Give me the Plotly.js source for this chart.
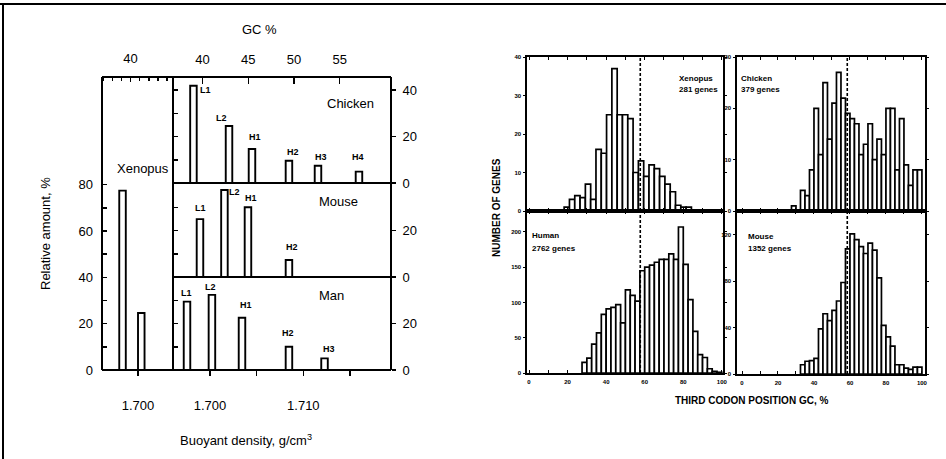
<!DOCTYPE html>
<html><head><meta charset="utf-8">
<script src="https://cdn.plot.ly/plotly-3.0.1.min.js"></script>
<style>html,body{margin:0;padding:0;background:#fff}#chart{width:946px;height:459px}</style>
</head><body><div id="chart"></div>
<script>
// ---------- DATA (left figure: CsCl bands) ----------
const xenopusDensity = [1.69834, 1.70035];
const xenopusAmount  = [77.4, 24.6];

const chickenBands   = ['L1','L2','H1','H2','H3','H4'];
const chickenDensity = [1.69823, 1.70204, 1.70450, 1.70846, 1.71157, 1.71596];
const chickenAmount  = [41.8, 24.5, 14.6, 9.6, 7.4, 4.9];

const mouseBands     = ['L1','L2','H1','H2'];
const mouseDensity   = [1.69893, 1.70155, 1.70407, 1.70846];
const mouseAmount    = [24.9, 37.4, 30.0, 7.3];

const manBands       = ['L1','L2','H1','H2','H3'];
const manDensity     = [1.69754, 1.70021, 1.70343, 1.70846, 1.71227];
const manAmount      = [29.4, 32.3, 22.5, 10.0, 5.0];

// ---------- DATA (right figure: GC3 histograms) ----------
const xenopusGC  = [19.6,22.35,25.1,27.85,30.6,33.35,36.1,38.85,41.6,44.35,47.1,49.85,52.6,55.35,58.1,60.85,63.6,66.35,69.1,71.85,74.6,77.35,80.1,82.85];
const xenopusGenes = [1,3,4,3.5,7,3,16,15,25,37,25,25,24,10,13,9,12,11,9,7,5,1.5,1,1];

const humanGC = [28.75,31.25,33.75,36.25,38.75,41.25,43.75,46.25,48.75,51.25,53.75,56.25,58.75,61.25,63.75,66.25,68.75,71.25,73.75,76.25,78.75,81.25,83.75,86.25,88.75,91.25,93.75,96.25,98.75];
const humanGenes = [15,21,41,57,83,91,93,97,71,118,110,102,145,150,153,157,161,161,169,161,207,154,104,59,26,22,6,2.5,1];

const chickenGC = [28.75,33.75,36.25,38.75,41.25,43.75,46.25,48.75,51.25,53.75,56.25,58.75,61.25,63.75,66.25,68.75,71.25,73.75,76.25,78.75,81.25,83.75,86.25,88.75,91.25,93.75,96.25,98.75];
const chickenGenes = [1,4,3,8,20,11,25,14,21,27,22,19,18,17,11,13,17,10,14,11,20,20,8,18,9,5,8,8];

const mouseGC = [33.75,36.25,38.75,41.25,43.75,46.25,48.75,51.25,53.75,56.25,58.75,61.25,63.75,66.25,68.75,71.25,73.75,76.25,78.75,81.25,83.75,86.25,88.75,91.25,93.75,96.25,98.75];
const mouseGenes = [8,11,11.5,13.5,39,52,46,55,63,79,108,121,116,110,104,113,107,83,42,32,24,8,8,5,4,6,6];

const meanGC_XenopusHuman = 57.7;
const meanGC_ChickenMouse = 58.5;
const geneCounts = {Xenopus:'281 genes', Chicken:'379 genes', Human:'2762 genes', Mouse:'1352 genes'};

// ---------- helpers ----------
const W = 946, H = 459;
const dx = (a,b) => [a/W, b/W];
const dy = (top,bot) => [1-bot/H, 1-top/H];
const gcOf = d => (d - 1.660) / 0.00098;     // buoyant density -> GC %
const FONT = 'Liberation Sans, Arial, Helvetica, sans-serif';

const xenRange = [1.69614, 1.70375];
const subRange = [1.69604, 1.71939];

function bandBar(x, y, xa, ya){
  return {type:'bar', x:x, y:y, xaxis:xa, yaxis:ya, width:0.0007,
    marker:{color:'#fff', line:{color:'#000', width:1.9}}, hoverinfo:'skip', showlegend:false};
}
function histBar(x, y, w, xa, ya){
  return {type:'bar', x:x, y:y, xaxis:xa, yaxis:ya, width:w,
    marker:{color:'#fff', line:{color:'#000', width:1.7}}, hoverinfo:'skip', showlegend:false};
}
// empty carriers so that the secondary (overlaying) axes get drawn
const carrier = (xa, ya) => ({type:'scatter', mode:'markers', x:[], y:[], xaxis:xa, yaxis:ya,
  hoverinfo:'skip', showlegend:false});

const traces = [
  bandBar(xenopusDensity, xenopusAmount, 'x', 'y'),
  bandBar(chickenDensity, chickenAmount, 'x3', 'y3'),
  bandBar(mouseDensity, mouseAmount, 'x3', 'y5'),
  bandBar(manDensity, manAmount, 'x3', 'y7'),
  histBar(xenopusGC, xenopusGenes, 2.75, 'x5', 'y9'),
  histBar(humanGC, humanGenes, 2.5, 'x6', 'y10'),
  histBar(chickenGC, chickenGenes, 2.5, 'x7', 'y11'),
  histBar(mouseGC, mouseGenes, 2.5, 'x8', 'y12'),
  carrier('x2','y'), carrier('x4','y3'), carrier('x3','y4'), carrier('x3','y6'), carrier('x3','y8'),
];

const base = {showgrid:false, zeroline:false, showline:false, fixedrange:true,
  tickcolor:'#000', tickwidth:1.5, tickfont:{family:FONT, size:13, color:'#000'}};
const tickF = {family:FONT, size:6, color:'#000', weight:'bold'};
const hx = (o) => Object.assign({}, base, {showline:true, linewidth:1.6, linecolor:'#000', mirror:'ticks',
  ticks:'inside', ticklen:3, tickwidth:1, tickfont:tickF}, o);
const hy = (o) => Object.assign({}, base, {showline:true, linewidth:1.6, linecolor:'#000', mirror:'ticks',
  ticks:'outside', ticklen:2, tickwidth:1, tickfont:tickF, ticklabelstandoff:1}, o);

const layout = {
  width:W, height:H, margin:{l:0,r:0,t:0,b:0}, autosize:false,
  paper_bgcolor:'#fff', plot_bgcolor:'rgba(0,0,0,0)', barmode:'overlay', bargap:0,
  font:{family:FONT, color:'#000'}, showlegend:false, hovermode:false,

  // left: Xenopus
  xaxis: Object.assign({}, base, {domain:dx(102,173), range:xenRange, anchor:'y',
    tickvals:[1.700], ticktext:['1.700'], ticks:'outside', ticklen:5, ticklabelstandoff:18}),
  xaxis2: Object.assign({}, base, {overlaying:'x', side:'top', anchor:'y', range:xenRange.map(gcOf),
    tickvals:[40], ticks:'inside', ticklen:5, ticklabelstandoff:10,
    minor:{tickvals:[37,38,39,41,42,43,44], ticks:'inside', ticklen:4, tickwidth:1.5, tickcolor:'#000'}}),
  yaxis: Object.assign({}, base, {domain:dy(77,370), range:[0,126.45], anchor:'x',
    tickvals:[0,10,20,30,40,50,60,70,80], ticktext:['0','','20','','40','','60','','80'],
    ticks:'inside', ticklen:5, ticklabelstandoff:8}),

  // left: Chicken / Mouse / Man
  xaxis3: Object.assign({}, base, {domain:dx(173,391), range:subRange, anchor:'y7',
    tickvals:[1.700,1.705,1.710,1.715], ticktext:['1.700','','1.710',''],
    ticks:'outside', ticklen:5, ticklabelstandoff:18}),
  xaxis4: Object.assign({}, base, {overlaying:'x3', side:'top', anchor:'free', position:1-77/H,
    range:subRange.map(gcOf), tickvals:[40,45,50,55], ticks:'inside', ticklen:6, ticklabelstandoff:10}),
  yaxis3: Object.assign({}, base, {domain:dy(77,183), range:[0,45.59], anchor:'x3',
    tickvals:[10,20,30,40], showticklabels:false, ticks:'inside', ticklen:5}),
  yaxis4: Object.assign({}, base, {overlaying:'y3', side:'right', anchor:'x3', range:[0,45.59],
    tickvals:[0,20,40], ticks:'outside', ticklen:4, ticklabelstandoff:4}),
  yaxis5: Object.assign({}, base, {domain:dy(183,277), range:[0,40.43], anchor:'x3',
    tickvals:[10,20,30], showticklabels:false, ticks:'inside', ticklen:5}),
  yaxis6: Object.assign({}, base, {overlaying:'y5', side:'right', anchor:'x3', range:[0,40.43],
    tickvals:[0,20], ticks:'outside', ticklen:4, ticklabelstandoff:4}),
  yaxis7: Object.assign({}, base, {domain:dy(277,370), range:[0,40], anchor:'x3',
    tickvals:[10,20,30], showticklabels:false, ticks:'inside', ticklen:5}),
  yaxis8: Object.assign({}, base, {overlaying:'y7', side:'right', anchor:'x3', range:[0,40],
    tickvals:[0,20], ticks:'outside', ticklen:4, ticklabelstandoff:4}),

  // right: histograms
  xaxis5: hx({domain:dx(527,723), range:[-1.04,100.6], anchor:'y9', dtick:10, showticklabels:false}),
  yaxis9: hy({domain:dy(57,211), range:[0,40], anchor:'x5', tickvals:[0,10,20,30,40]}),
  xaxis6: hx({domain:dx(527,723), range:[-1.04,100.6], anchor:'y10', dtick:10,
    tickvals:[0,10,20,30,40,50,60,70,80,90,100], ticktext:['0','','20','','40','','60','','80','','100'], ticklabelstandoff:2}),
  yaxis10: hy({domain:dy(211,373), range:[0,229.7], anchor:'x6', tickvals:[0,50,100,150,200]}),
  xaxis7: hx({domain:dx(737,925), range:[-2.78,101.7], anchor:'y11', dtick:10, showticklabels:false}),
  yaxis11: hy({domain:dy(57,211), range:[0,30], anchor:'x7', tickvals:[0,10,20,30]}),
  xaxis8: hx({domain:dx(737,925), range:[-2.78,101.7], anchor:'y12',
    tickvals:[0,10,20,30,40,50,60,70,80,90,100], ticktext:['0','','20','','40','','60','','80','','100'], ticklabelstandoff:2}),
  yaxis12: hy({domain:dy(211,374), range:[0,140.7], anchor:'x8', tickvals:[0,40,80,120]}),
};

// frame lines (paper px)
const L = (x0,y0,x1,y1,w) => ({type:'line', xref:'paper', yref:'paper', x0:x0/W, x1:x1/W, y0:1-y0/H, y1:1-y1/H,
  line:{color:'#000', width:w||2}});
const dash = (xa, ya, v) => ({type:'line', xref:xa, yref:ya+' domain', x0:v, x1:v, y0:0, y1:1,
  line:{color:'#000', width:1.6, dash:'3px,2px'}});
layout.shapes = [
  L(0,4,946,4,2), L(3,4,3,459,2),
  L(102,77,391,77), L(102,370,391,370), L(102,77,102,370), L(391,77,391,370), L(173,77,173,370),
  L(173,183,391,183), L(173,277,391,277),
  dash('x5','y9',meanGC_XenopusHuman), dash('x6','y10',meanGC_XenopusHuman),
  dash('x7','y11',meanGC_ChickenMouse), dash('x8','y12',meanGC_ChickenMouse),
];

// annotations
const ann = [];
const P = (text, x, y, o) => ann.push(Object.assign({text:text, xref:'paper', yref:'paper', x:x/W, y:1-y/H,
  showarrow:false, xanchor:'center', yanchor:'middle', font:{family:FONT, size:13, color:'#000'}}, o||{}));
P('GC %', 259, 30, {font:{family:FONT, size:13, color:'#000'}});
P('Relative amount, %', 46, 234, {textangle:-90});
P('Buoyant density, g/cm<sup>3</sup>', 246, 440);
P('Xenopus', 171, 169, {xanchor:'right'});
P('Chicken', 325, 103, {xanchor:'left'});
P('Mouse', 317, 201, {xanchor:'left'});
P('Man', 317, 295, {xanchor:'left'});
const sF = {family:FONT, size:8, color:'#000', weight:'bold'};
P('Xenopus', 677, 78, {xanchor:'left', font:sF});
P(geneCounts.Xenopus, 677, 90, {xanchor:'left', font:sF});
P('Chicken', 739, 78, {xanchor:'left', font:sF});
P(geneCounts.Chicken, 739, 90, {xanchor:'left', font:sF});
P('Human', 530, 235, {xanchor:'left', font:sF});
P(geneCounts.Human, 530, 248, {xanchor:'left', font:sF});
P('Mouse', 746, 236, {xanchor:'left', font:sF});
P(geneCounts.Mouse, 746, 249, {xanchor:'left', font:sF});
P('THIRD CODON POSITION GC, %', 751, 400, {font:{family:FONT, size:10, color:'#000', weight:'bold'}});
P('NUMBER OF GENES', 497, 207, {textangle:-90, font:{family:FONT, size:10, color:'#000', weight:'bold'}});

// band labels (offsets in px relative to bar top)
const bF = {family:FONT, size:9, color:'#000', weight:'bold'};
const offs = {
  y3:[[12.5,-4],[-8,8],[3,12],[4,9],[3,9],[-1,15]],
  y5:[[1,11],[10,-2],[3,9],[3,13]],
  y7:[[-1,9],[-1,8],[4,13],[-1,14],[4.5,9]]
};
function bandLabels(names, xs, ys, ya){
  names.forEach((n,i)=>ann.push({text:n, xref:'x3', yref:ya, x:xs[i], y:ys[i], showarrow:false,
    xanchor:'center', yanchor:'middle', xshift:offs[ya][i][0], yshift:offs[ya][i][1], font:bF}));
}
bandLabels(chickenBands, chickenDensity, chickenAmount, 'y3');
bandLabels(mouseBands, mouseDensity, mouseAmount, 'y5');
bandLabels(manBands, manDensity, manAmount, 'y7');
layout.annotations = ann;

Plotly.newPlot('chart', traces, layout, {staticPlot:true, displayModeBar:false});
</script></body></html>
